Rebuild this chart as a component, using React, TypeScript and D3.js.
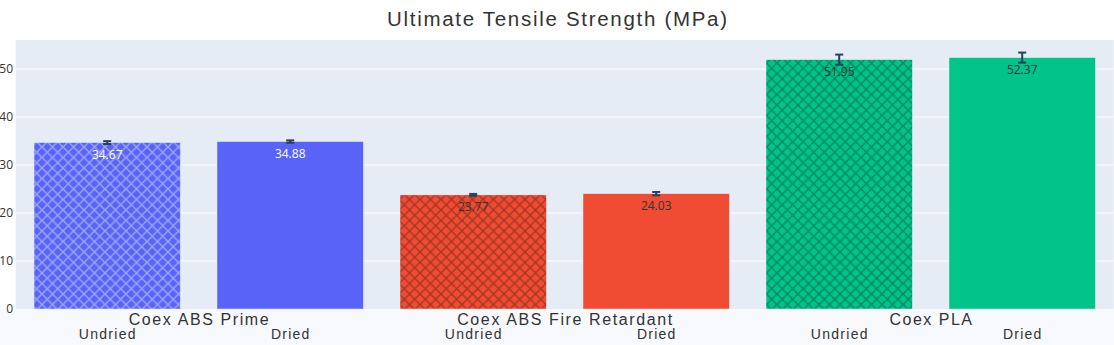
import React from "react";
import * as d3 from "d3";

const groups = ["Coex ABS Prime", "Coex ABS Fire Retardant", "Coex PLA"];
const conditions = ["Undried", "Dried"];
const values = [34.67, 34.88, 23.77, 24.03, 51.95, 52.37];
const errors = [0.3, 0.25, 0.2, 0.35, 1.05, 1.05];
const groupColors = ["#5863f8", "#ef4c33", "#00c489"];
const yTicks = [0, 10, 20, 30, 40, 50];
const title = "Ultimate Tensile Strength (MPa)";

const W = 1114;
const H = 345;
const plotLeft = 15.7;
const plotRight = 1113.7;
const plotTop = 40;
const plotBottom = 309;

export default function App() {
  const keys: string[] = [];
  groups.forEach((g) => conditions.forEach((c) => keys.push(g + "|" + c)));
  const x = d3.scaleBand<string>().domain(keys).range([plotLeft, plotRight]).paddingInner(0.2).paddingOuter(0.1);
  const y = d3.scaleLinear().domain([0, 56.04]).range([plotBottom, plotTop]);
  const bw = x.bandwidth();
  const groupWidths = [140, 215, 82.6];
  const condWidths = [56.7, 38.3];
  const P = 10.5;

  return (
    <svg width={W} height={H} style={{ position: "absolute", left: 0, top: 0, background: "#fff" }}>
      <defs>
        {groupColors.map((col, i) => (
          <pattern key={i} id={"hatch" + i} patternUnits="userSpaceOnUse" width={P} height={P}>
            <rect width={P} height={P} fill={col} />
            <path
              d={`M-1,-1 L${P + 1},${P + 1} M${P + 1},-1 L-1,${P + 1}`}
              stroke={i === 0 ? "rgba(255,255,255,0.42)" : "rgba(0,0,0,0.3)"}
              strokeWidth={1.4}
            />
          </pattern>
        ))}
      </defs>
      <rect x={0} y={plotBottom} width={W} height={H - plotBottom} fill="#f7f9fc" />
      <rect x={plotLeft} y={plotTop} width={plotRight - plotLeft} height={plotBottom - plotTop} fill="#e5ecf6" />
      {yTicks.map((t) => (
        <g key={t}>
          {t > 0 && <line x1={plotLeft} x2={plotRight} y1={y(t)} y2={y(t)} stroke="#fff" strokeWidth={1} />}
          <text x={13} y={y(t)} dy="0.35em" textAnchor="end" fontFamily="'Open Sans', sans-serif" fontSize={12} fill="#333">
            {t}
          </text>
        </g>
      ))}
      {keys.map((k, i) => {
        const gi = Math.floor(i / 2);
        const ci = i % 2;
        const x0 = x(k)!;
        const v = values[i];
        const top = y(v);
        const cx = x0 + bw / 2;
        const e = errors[i];
        return (
          <g key={k}>
            <rect
              x={x0}
              y={top}
              width={bw}
              height={plotBottom - top}
              fill={ci === 0 ? `url(#hatch${gi})` : groupColors[gi]}
              stroke="#e5ecf6"
              strokeWidth={0.5}
            />
            <text
              x={cx}
              y={top + 16}
              textAnchor="middle"
              fontFamily="'Open Sans', sans-serif"
              fontSize={12}
              fill={gi === 0 ? "#fff" : "#333"}
            >
              {v.toFixed(2)}
            </text>
            <g stroke="#2a3f5f" strokeWidth={2}>
              <line x1={cx} x2={cx} y1={y(v - e)} y2={y(v + e)} />
              <line x1={cx - 4} x2={cx + 4} y1={y(v - e)} y2={y(v - e)} />
              <line x1={cx - 4} x2={cx + 4} y1={y(v + e)} y2={y(v + e)} />
            </g>
            <text
              x={cx}
              y={339}
              textAnchor="middle"
              fontFamily="'Liberation Sans', Arial, sans-serif"
              fontSize={14}
              fill="#333"
              textLength={condWidths[ci]}
              lengthAdjust="spacing"
            >
              {conditions[ci]}
            </text>
          </g>
        );
      })}
      {groups.map((g, gi) => {
        const a = x(g + "|" + conditions[0])!;
        const b = x(g + "|" + conditions[1])! + bw;
        return (
          <text
            key={g}
            x={(a + b) / 2}
            y={325}
            textAnchor="middle"
            fontFamily="'Liberation Sans', Arial, sans-serif"
            fontSize={16}
            fill="#333"
            textLength={groupWidths[gi]}
            lengthAdjust="spacing"
          >
            {g}
          </text>
        );
      })}
      <text
        x={557}
        y={26}
        textAnchor="middle"
        fontFamily="'Liberation Sans', Arial, sans-serif"
        fontSize={20.5}
        fill="#333"
        textLength={340}
        lengthAdjust="spacing"
      >
        {title}
      </text>
    </svg>
  );
}
